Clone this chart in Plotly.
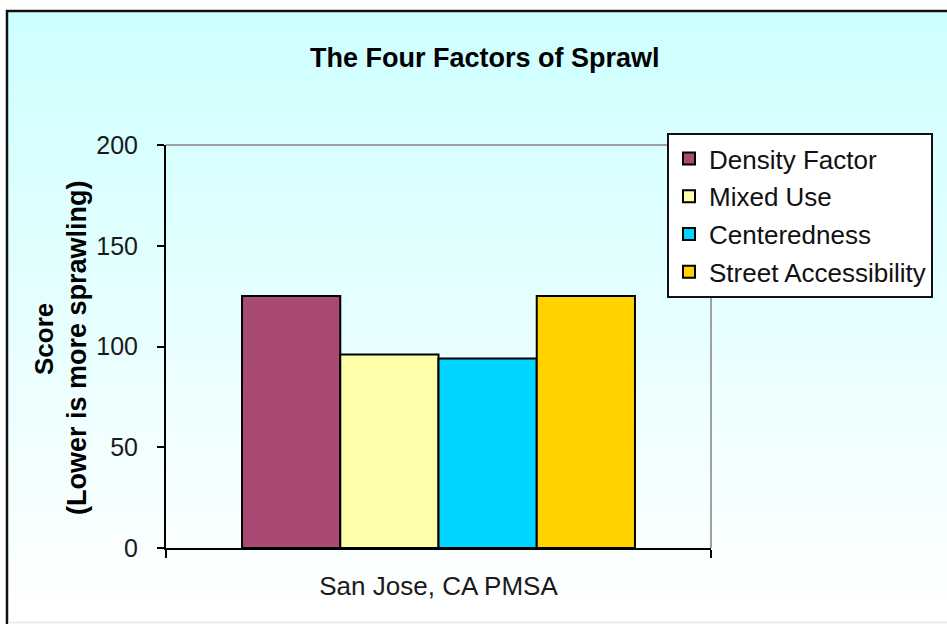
import plotly.graph_objects as go

categories = ["San Jose, CA PMSA"]
series_names = ["Density Factor", "Mixed Use", "Centeredness", "Street Accessibility"]
series_values = [[125], [96], [94], [125]]
series_colors = ["#A94A75", "#FFFFAA", "#00D5FF", "#FFD200"]
y_ticks = [0, 50, 100, 150, 200]

W, H = 947, 624
L, R, T, B = 166, 711, 145, 548
PW, PH = R - L, B - T


def px(x):
    return (x - L) / PW


def py(y):
    return (B - y) / PH


fig = go.Figure()
for i, (name, vals, col) in enumerate(zip(series_names, series_values, series_colors)):
    fig.add_trace(go.Bar(
        x=categories, y=vals, name=name,
        marker=dict(color=col, line=dict(color="#000000", width=2)),
        legendgroup=f"g{i}",
    ))

shapes = []
# background gradient (light cyan to white)
n = 80
top, bot = 11, 624
for k in range(n):
    y0 = top + (bot - top) * k / n
    y1 = top + (bot - top) * (k + 1) / n
    ym = (y0 + y1) / 2
    t = min(1.0, max(0.0, (ym - 12) / (610 - 12)))
    r = round(205 + 50 * t)
    shapes.append(dict(type="rect", xref="paper", yref="paper",
                       x0=px(7), x1=px(W + 2), y0=py(y1 + 0.5), y1=py(y0),
                       fillcolor=f"rgb({r},255,255)", line=dict(width=0), layer="below"))
# outer border (top + left visible)
shapes.append(dict(type="line", xref="paper", yref="paper", x0=px(6), x1=px(W + 2),
                   y0=py(11), y1=py(11), line=dict(color="#111111", width=2.5)))
shapes.append(dict(type="line", xref="paper", yref="paper", x0=px(7), x1=px(7),
                   y0=py(10), y1=py(H + 2), line=dict(color="#111111", width=2.5)))
shapes.append(dict(type="line", xref="paper", yref="paper", x0=px(8), x1=px(W + 2),
                   y0=py(622.5), y1=py(622.5), line=dict(color="#E6E6E6", width=1.5)))
# plot area border (top + right, gray)
shapes.append(dict(type="line", xref="paper", yref="paper", x0=0, x1=1, y0=1, y1=1,
                   line=dict(color="#A0A0A0", width=2), layer="below"))
shapes.append(dict(type="line", xref="paper", yref="paper", x0=1, x1=1, y0=0, y1=1,
                   line=dict(color="#A0A0A0", width=2), layer="below"))

annotations = [
    dict(text="<b>The Four Factors of Sprawl</b>", xref="paper", yref="paper",
         x=px(485), y=py(58), xanchor="center", yanchor="middle", showarrow=False,
         font=dict(family="Liberation Sans, Arial", size=27, color="#000000")),
    dict(text="<b>Score</b>", xref="paper", yref="paper", textangle=-90,
         x=px(44), y=py(339), xanchor="center", yanchor="middle", showarrow=False,
         font=dict(family="Liberation Sans, Arial", size=26, color="#000000")),
    dict(text="<b>(Lower is more sprawling)</b>", xref="paper", yref="paper", textangle=-90,
         x=px(77), y=py(348), xanchor="center", yanchor="middle", showarrow=False,
         font=dict(family="Liberation Sans, Arial", size=27, color="#000000")),
]

fig.update_layout(
    width=W, height=H,
    margin=dict(l=L, r=W - R, t=T, b=H - B),
    paper_bgcolor="#FFFFFF", plot_bgcolor="rgba(0,0,0,0)",
    barmode="group", bargap=0.279, bargroupgap=0,
    font=dict(family="Liberation Sans, Arial", size=25, color="#1A1A1A"),
    shapes=shapes, annotations=annotations,
    showlegend=True,
    legend=dict(x=px(667), y=py(133), xanchor="left", yanchor="top",
                bgcolor="#FFFFFF", bordercolor="#111111", borderwidth=2,
                font=dict(size=26, color="#111111"), tracegroupgap=1,
                itemwidth=30),
)
fig.update_xaxes(
    type="category", showline=True, linecolor="#000000", linewidth=2,
    ticks="outside", tickson="boundaries", ticklen=8, tickcolor="#000000", tickwidth=2,
    showgrid=False, zeroline=False, ticklabelstandoff=14,
    tickfont=dict(size=26),
)
fig.update_yaxes(
    range=[0, 200], tickvals=y_ticks, ticktext=[str(v) for v in y_ticks],
    showline=True, linecolor="#000000", linewidth=2,
    ticks="outside", ticklen=7, tickcolor="#000000", tickwidth=2,
    showgrid=False, zeroline=False, ticklabelstandoff=14,
)

fig.write_html("out.html", config={"displayModeBar": False},
               post_script="document.body.style.margin='0px';document.body.style.overflow='hidden';")
